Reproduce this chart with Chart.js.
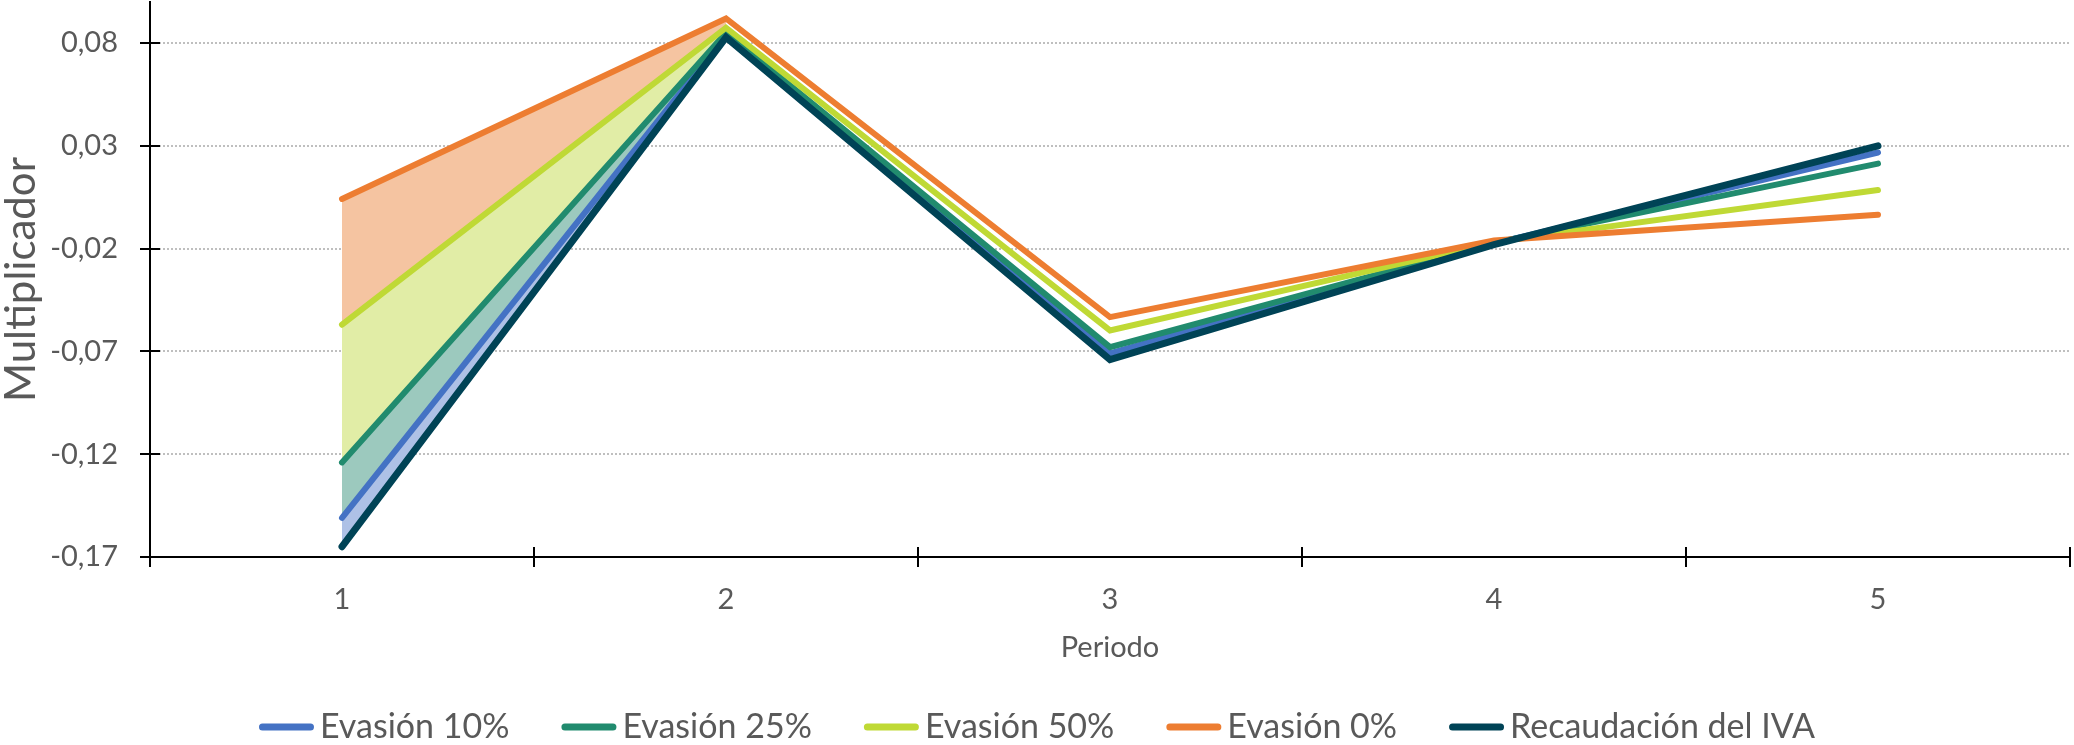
<!DOCTYPE html>
<html>
<head>
<meta charset="utf-8">
<script src="https://cdn.jsdelivr.net/npm/chart.js@4.4.1/dist/chart.umd.min.js"></script>
<style>
  body { margin: 0; background: #fff; }
  #wrap { width: 2074px; height: 745px; }
</style>
</head>
<body>
<div id="wrap"><canvas id="multChart"></canvas></div>
<script>
// Periods and y-axis ticks
const periods = ['1', '2', '3', '4', '5'];
const yTicks = [-0.17, -0.12, -0.07, -0.02, 0.03, 0.08];

// Multiplier by scenario
const evasion10 = [-0.151, 0.0838, -0.071, -0.0175, 0.0268];
const evasion25 = [-0.124, 0.085, -0.0679, -0.0172, 0.0214];
const evasion50 = [-0.057, 0.0875, -0.0598, -0.0168, 0.0085];
const evasion0 = [0.0042, 0.092, -0.0533, -0.016, -0.0035];
const recaudacionIva = [-0.165, 0.0828, -0.074, -0.018, 0.030];

const font = 'Lato';
const textColor = '#595959';

const series = [
  { label: 'Evasión 10%', data: evasion10, color: '#4472c4', order: 5 },
  { label: 'Evasión 25%', data: evasion25, color: '#218b6e', order: 4 },
  { label: 'Evasión 50%', data: evasion50, color: '#bfd935', order: 3 },
  { label: 'Evasión 0%', data: evasion0, color: '#ed7d31', order: 2 },
  { label: 'Recaudación del IVA', data: recaudacionIva, color: '#004356', order: 1 }
];

// Shaded bands between the scenarios, only over the first segment (top to bottom)
const bands = [
  { data: evasion0, color: '#f5c4a1' },
  { data: evasion50, color: '#e1eda6' },
  { data: evasion25, color: '#9cc9be' },
  { data: evasion10, color: '#aec1e6' },
  { data: recaudacionIva, color: null }
];
const firstSegment = arr => arr.map((v, i) => (i < 2 ? v : null));

const lineSets = series.map(s => ({
  label: s.label,
  data: s.data,
  borderColor: s.color,
  backgroundColor: s.color,
  borderWidth: s.order === 1 ? 7 : 6,
  borderCapStyle: 'round',
  borderJoinStyle: 'miter',
  pointRadius: 0,
  tension: 0,
  fill: false,
  order: s.order
}));

const bandSets = bands.map((b, i) => ({
  label: 'band' + i,
  band: true,
  data: firstSegment(b.data),
  borderWidth: 0,
  pointRadius: 0,
  backgroundColor: b.color || 'transparent',
  fill: b.color ? lineSets.length + i + 1 : false,
  order: 20
}));

// Tick marks crossing both axes
const crossTicks = {
  id: 'crossTicks',
  afterDraw(chart) {
    const { ctx, chartArea: a, scales: { y } } = chart;
    ctx.save();
    ctx.strokeStyle = '#000';
    ctx.lineWidth = 2;
    ctx.beginPath();
    yTicks.forEach(v => {
      const py = Math.round(y.getPixelForValue(v));
      ctx.moveTo(a.left - 10, py);
      ctx.lineTo(a.left + 10, py);
    });
    const step = (a.right - a.left) / periods.length;
    for (let i = 0; i <= periods.length; i++) {
      const px = Math.round(a.left + i * step);
      ctx.moveTo(px, a.bottom - 10);
      ctx.lineTo(px, a.bottom + 10);
    }
    ctx.stroke();
    ctx.restore();
  }
};

// Legend drawn as a single centered row
const lineLegend = {
  id: 'lineLegend',
  afterDraw(chart) {
    const ctx = chart.ctx;
    const items = chart.data.datasets.filter(d => !d.band);
    ctx.save();
    ctx.font = `34px ${font}`;
    const lineW = 55, textGap = 6, gap = 52;
    const widths = items.map(d => lineW + textGap + ctx.measureText(d.label).width);
    const total = widths.reduce((a, b) => a + b, 0) + gap * (items.length - 1);
    let x = (chart.width - total) / 2;
    const y = 727;
    items.forEach((d, i) => {
      ctx.strokeStyle = d.borderColor;
      ctx.lineWidth = 7;
      ctx.lineCap = 'round';
      ctx.beginPath();
      ctx.moveTo(x + 3.5, y);
      ctx.lineTo(x + lineW - 3.5, y);
      ctx.stroke();
      ctx.fillStyle = textColor;
      ctx.textBaseline = 'alphabetic';
      ctx.fillText(d.label, x + lineW + textGap, y + 11);
      x += widths[i] + gap;
    });
    ctx.restore();
  }
};

new Chart(document.getElementById('multChart'), {
  type: 'line',
  data: {
    labels: periods,
    datasets: [...lineSets, ...bandSets]
  },
  options: {
    responsive: true,
    maintainAspectRatio: false,
    devicePixelRatio: 1,
    animation: false,
    events: [],
    layout: { padding: { top: 2, right: 4, bottom: 78, left: 0 } },
    plugins: {
      legend: { display: false },
      tooltip: { enabled: false }
    },
    scales: {
      x: {
        type: 'category',
        offset: true,
        grid: { display: true, drawOnChartArea: false, offset: true, tickLength: 10, tickColor: 'transparent' },
        border: { color: '#000', width: 2 },
        ticks: { font: { family: font, size: 29 }, color: textColor, padding: 15 },
        title: {
          display: true,
          text: 'Periodo',
          font: { family: font, size: 29 },
          color: textColor,
          padding: { top: 4, bottom: 2 }
        },
        afterFit: s => {
          s.height = 110;
          s.paddingLeft = 0;
          s.paddingRight = 0;
        }
      },
      y: {
        min: -0.17,
        max: 0.10,
        afterBuildTicks: s => { s.ticks = yTicks.map(v => ({ value: v })); },
        ticks: {
          font: { family: font, size: 29 },
          color: textColor,
          padding: 22,
          callback: v => v.toFixed(2).replace('.', ',')
        },
        grid: { color: '#bfbfbf', lineWidth: 2, tickLength: 10, tickColor: 'transparent' },
        border: { color: '#000', width: 2, dash: [2, 2] },
        title: {
          display: true,
          text: 'Multiplicador',
          font: { family: font, size: 42, lineHeight: 1.0 },
          color: textColor,
          padding: 0
        },
        afterFit: s => {
          s.width = 150;
          s.paddingTop = 0;
          s.paddingBottom = 0;
        }
      }
    }
  },
  plugins: [crossTicks, lineLegend]
});
</script>
</body>
</html>
